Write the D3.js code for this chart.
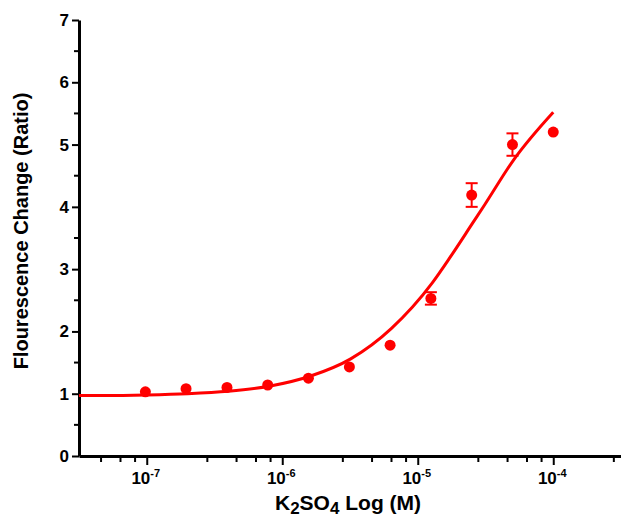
<!DOCTYPE html>
<html>
<head>
<meta charset="utf-8">
<script src="https://cdn.jsdelivr.net/npm/d3@7"></script>
<style>
body { margin: 0; background: #fff; }
svg { display: block; font-family: "Liberation Sans", Arial, sans-serif; font-weight: bold; }
</style>
</head>
<body>
<svg width="621" height="517"></svg>
<script>
// K2SO4 concentrations (M), twofold dilutions from 100 uM
var conc = [9.77e-8, 1.95e-7, 3.91e-7, 7.81e-7, 1.56e-6, 3.13e-6, 6.25e-6, 1.25e-5, 2.5e-5, 5e-5, 1e-4];
var ratio = [1.03, 1.08, 1.10, 1.14, 1.25, 1.43, 1.78, 2.53, 4.19, 5.00, 5.20];
var errs = [0, 0, 0, 0, 0, 0, 0, 0.10, 0.19, 0.18, 0];

// fitted curve
var fitX = [3.16e-8, 5e-8, 1e-7, 2e-7, 4e-7, 8e-7, 1.6e-6, 3.2e-6, 6.4e-6, 1.28e-5, 1.72e-5, 2.56e-5, 3.11e-5, 5.12e-5, 1e-4];
var fitY = [0.97, 0.97, 0.98, 1.00, 1.04, 1.12, 1.28, 1.56, 2.05, 2.78, 3.18, 3.75, 4.03, 4.76, 5.52];

var yTicks = [0, 1, 2, 3, 4, 5, 6, 7];
var yMinor = [0.5, 1.5, 2.5, 3.5, 4.5, 5.5, 6.5];
var xExp = [-7, -6, -5, -4];
var minorMult = [2.8, 4.6, 6.4, 8.2];

var red = "#ff0000";

var svg = d3.select("svg");

var x = d3.scaleLog()
  .domain([Math.pow(10, -7.5), Math.pow(10, -3.5)])
  .range([79, 621]);
var y = d3.scaleLinear()
  .domain([0, 7])
  .range([456, 20]);

// minor x ticks
var xMinor = [];
[-8, -7, -6, -5, -4].forEach(function(e) {
  minorMult.forEach(function(m) {
    var v = m * Math.pow(10, e);
    if (v > x.domain()[0] && v < x.domain()[1]) xMinor.push(v);
  });
});

svg.append("g")
  .selectAll("line")
  .data(xMinor)
  .join("line")
  .attr("x1", d => x(d)).attr("x2", d => x(d))
  .attr("y1", y(0)).attr("y2", y(0) + 6)
  .attr("stroke", "#000").attr("stroke-width", 2);

svg.append("g")
  .selectAll("line")
  .data(yMinor)
  .join("line")
  .attr("x1", x.range()[0] - 5).attr("x2", x.range()[0])
  .attr("y1", d => y(d)).attr("y2", d => y(d))
  .attr("stroke", "#000").attr("stroke-width", 2);

// x axis
var xAxis = svg.append("g")
  .attr("transform", "translate(0," + y(0) + ")")
  .call(d3.axisBottom(x)
    .tickValues(xExp.map(e => Math.pow(10, e)))
    .tickSize(9)
    .tickSizeOuter(0)
    .tickFormat(""));
xAxis.select(".domain").attr("stroke-width", 3);
xAxis.selectAll(".tick line").attr("stroke-width", 2);

var xLab = svg.append("g")
  .selectAll("text")
  .data(xExp)
  .join("text")
  .attr("x", d => x(Math.pow(10, d)) - 1)
  .attr("y", 484)
  .attr("text-anchor", "middle")
  .style("font-size", "17px");
xLab.append("tspan").text("10");
xLab.append("tspan")
  .attr("dy", -7)
  .style("font-size", "11px")
  .text(d => "-" + (-d));

// y axis
var yAxis = svg.append("g")
  .attr("transform", "translate(" + x.range()[0] + ",0)")
  .call(d3.axisLeft(y)
    .tickValues(yTicks)
    .tickSize(7)
    .tickSizeOuter(0)
    .tickFormat(d3.format("d")));
yAxis.select(".domain").attr("stroke-width", 3);
yAxis.selectAll(".tick line").attr("stroke-width", 2);
yAxis.selectAll(".tick text")
  .attr("x", -10)
  .style("font-size", "17px")
  .style("font-family", "'Liberation Sans', Arial, sans-serif")
  .style("font-weight", "bold")
  .attr("fill", "#000");

// axis titles
var xt = svg.append("text")
  .attr("x", 348)
  .attr("y", 510)
  .attr("text-anchor", "middle")
  .style("font-size", "21px");
xt.append("tspan").text("K");
xt.append("tspan").attr("dy", 4).style("font-size", "17px").text("2");
xt.append("tspan").attr("dy", -4).text("SO");
xt.append("tspan").attr("dy", 4).style("font-size", "17px").text("4");
xt.append("tspan").attr("dy", -4).text(" Log (M)");

svg.append("text")
  .attr("transform", "translate(28,231) rotate(-90)")
  .attr("text-anchor", "middle")
  .style("font-size", "20px")
  .text("Flourescence Change (Ratio)");

// fit curve
var line = d3.line()
  .x(d => x(d[0]))
  .y(d => y(d[1]))
  .curve(d3.curveMonotoneX);

svg.append("path")
  .datum(d3.zip(fitX, fitY))
  .attr("d", line)
  .attr("fill", "none")
  .attr("stroke", red)
  .attr("stroke-width", 3);

// error bars
var pts = d3.zip(conc, ratio, errs);
var eb = svg.append("g")
  .selectAll("g")
  .data(pts.filter(d => d[2] > 0))
  .join("g")
  .attr("stroke", red)
  .attr("stroke-width", 2);
eb.append("line")
  .attr("x1", d => x(d[0])).attr("x2", d => x(d[0]))
  .attr("y1", d => y(d[1] - d[2])).attr("y2", d => y(d[1] + d[2]));
eb.append("line")
  .attr("x1", d => x(d[0]) - 6).attr("x2", d => x(d[0]) + 6)
  .attr("y1", d => y(d[1] + d[2])).attr("y2", d => y(d[1] + d[2]));
eb.append("line")
  .attr("x1", d => x(d[0]) - 6).attr("x2", d => x(d[0]) + 6)
  .attr("y1", d => y(d[1] - d[2])).attr("y2", d => y(d[1] - d[2]));

// points
svg.append("g")
  .selectAll("circle")
  .data(pts)
  .join("circle")
  .attr("cx", d => x(d[0]))
  .attr("cy", d => y(d[1]))
  .attr("r", 5.5)
  .attr("fill", red);
</script>
</body>
</html>
